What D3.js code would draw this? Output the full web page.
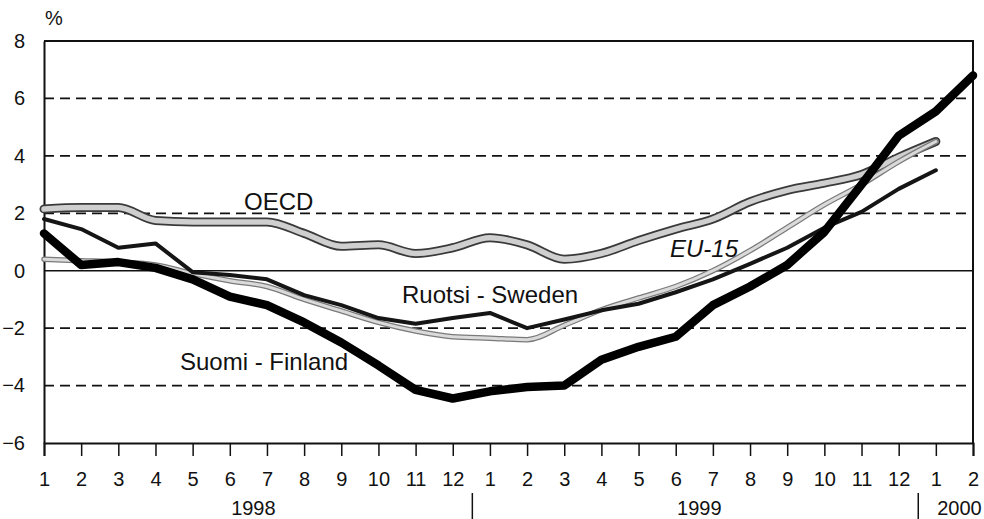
<!DOCTYPE html>
<html>
<head>
<meta charset="utf-8">
<script src="https://cdn.jsdelivr.net/npm/d3@7/dist/d3.min.js"></script>
<style>
  body { margin: 0; background: #fff; }
  svg { display: block; }
  text { font-family: "Liberation Sans", Arial, sans-serif; fill: #111; }
</style>
</head>
<body>
<svg id="chart" width="984" height="519"></svg>
<script>
// ---- data ----
const monthLabels = ["1","2","3","4","5","6","7","8","9","10","11","12",
                     "1","2","3","4","5","6","7","8","9","10","11","12",
                     "1","2"];
const years = [
  { label: "1998", from: 0, to: 11 },
  { label: "1999", from: 12, to: 23 },
  { label: "2000", from: 24, to: 25 }
];
const yTicks = [-6, -4, -2, 0, 2, 4, 6, 8];

const finland = [1.3, 0.2, 0.3, 0.1, -0.3, -0.9, -1.2, -1.8, -2.5, -3.3, -4.15, -4.45,
                 -4.2, -4.05, -4.0, -3.1, -2.65, -2.3, -1.2, -0.55, 0.2, 1.35, 3.0, 4.7,
                 5.55, 6.8];
const sweden  = [1.8, 1.45, 0.8, 0.95, -0.05, -0.15, -0.3, -0.85, -1.2, -1.65, -1.85, -1.65,
                 -1.47, -2.0, -1.7, -1.38, -1.15, -0.75, -0.3, 0.24, 0.8, 1.5, 2.05, 2.85,
                 3.5];
const oecd    = [2.15, 2.2, 2.2, 1.75, 1.7, 1.7, 1.7, 1.3, 0.85, 0.9, 0.6, 0.8,
                 1.15, 0.9, 0.4, 0.6, 1.05, 1.45, 1.8, 2.4, 2.8, 3.05, 3.35, 3.95,
                 4.5];
const eu15    = [0.4, 0.35, 0.3, 0.2, -0.1, -0.35, -0.55, -1.0, -1.4, -1.8, -2.1, -2.3,
                 -2.35, -2.4, -1.9, -1.36, -0.95, -0.55, 0.0, 0.7, 1.5, 2.3, 3.0, 3.8,
                 4.5];

// ---- layout ----
const svg = d3.select("#chart");
const L = 44, R = 973, T = 41, B = 443;
const x = d3.scaleLinear().domain([0, monthLabels.length - 1]).range([L, R]);
const y = d3.scaleLinear().domain([-6, 8]).range([B, T]);
const FONT = '"Liberation Sans", Arial, sans-serif';

// grid lines
svg.append("g").selectAll("line")
  .data(yTicks.filter(v => v !== 0 && v !== 8 && v !== -6))
  .join("line")
  .attr("x1", L).attr("x2", R)
  .attr("y1", d => y(d)).attr("y2", d => y(d))
  .attr("stroke", "#111").attr("stroke-width", 1.8)
  .attr("stroke-dasharray", "10,6");

// zero line
svg.append("line")
  .attr("x1", L).attr("x2", R).attr("y1", y(0)).attr("y2", y(0))
  .attr("stroke", "#111").attr("stroke-width", 1.6);

// frame top/right
svg.append("path")
  .attr("d", `M${L},${T}H${R}V${B}`)
  .attr("fill", "none").attr("stroke", "#111").attr("stroke-width", 2);

// y axis
const yAxis = svg.append("g")
  .attr("transform", `translate(${L},0)`)
  .call(d3.axisLeft(y).tickValues(yTicks).tickSize(0).tickPadding(19).tickFormat(d3.format("d")));
yAxis.select(".domain").attr("stroke", "#111").attr("stroke-width", 2);
yAxis.selectAll("text").style("font-size", "20px")
  .style("font-family", FONT).attr("fill", "#111");

// x axis
const xAxis = svg.append("g")
  .attr("transform", `translate(0,${B})`)
  .call(d3.axisBottom(x).tickValues(d3.range(monthLabels.length))
        .tickSize(13).tickPadding(16).tickFormat(i => monthLabels[i]));
xAxis.select(".domain").attr("stroke", "#111").attr("stroke-width", 2);
xAxis.selectAll(".tick line").attr("stroke", "#111").attr("stroke-width", 1.5);
xAxis.selectAll("text").style("font-size", "20px")
  .style("font-family", FONT).attr("fill", "#111");

// year labels and separators
svg.append("g").selectAll("text").data(years).join("text")
  .attr("x", d => (x(d.from) + x(d.to)) / 2 + 5)
  .attr("y", 515)
  .attr("text-anchor", "middle")
  .style("font-size", "20px")
  .text(d => d.label);
svg.append("g").selectAll("line").data(years.slice(1)).join("line")
  .attr("x1", d => (x(d.from - 1) + x(d.from)) / 2 + 1)
  .attr("x2", d => (x(d.from - 1) + x(d.from)) / 2 + 1)
  .attr("y1", 493).attr("y2", 519)
  .attr("stroke", "#111").attr("stroke-width", 1.5);

// lines
const line = d3.line().x((d, i) => x(i)).y(d => y(d)).curve(d3.curveLinear);
const smooth = d3.line().x((d, i) => x(i)).y(d => y(d)).curve(d3.curveMonotoneX);

function drawDouble(data, outer, outerW, inner, innerW, gen) {
  svg.append("path").datum(data).attr("d", gen)
    .attr("fill", "none").attr("stroke", outer).attr("stroke-width", outerW)
    .attr("stroke-linejoin", "round").attr("stroke-linecap", "round");
  svg.append("path").datum(data).attr("d", gen)
    .attr("fill", "none").attr("stroke", inner).attr("stroke-width", innerW)
    .attr("stroke-linejoin", "round").attr("stroke-linecap", "round");
}
drawDouble(oecd, "#3a3a3a", 9, "#cfcfcf", 5.5, smooth);
drawDouble(eu15, "#7a7a7a", 5.5, "#dadada", 3, smooth);

svg.append("path").datum(sweden).attr("d", line)
  .attr("fill", "none").attr("stroke", "#151515").attr("stroke-width", 4)
  .attr("stroke-linejoin", "round").attr("stroke-linecap", "round");
svg.append("path").datum(finland).attr("d", line)
  .attr("fill", "none").attr("stroke", "#000").attr("stroke-width", 8.5)
  .attr("stroke-linejoin", "round").attr("stroke-linecap", "round");

// series labels
const labels = [
  { text: "OECD", x: 244, y: 210, italic: false },
  { text: "EU-15", x: 670, y: 257, italic: true },
  { text: "Ruotsi - Sweden", x: 402, y: 303, italic: false },
  { text: "Suomi - Finland", x: 180, y: 370, italic: false }
];
svg.append("g").selectAll("text").data(labels).join("text")
  .attr("x", d => d.x).attr("y", d => d.y)
  .style("font-size", "24px")
  .style("font-style", d => d.italic ? "italic" : "normal")
  .text(d => d.text);

// unit
svg.append("text").attr("x", 45).attr("y", 25).style("font-size", "20px").text("%");
</script>
</body>
</html>
